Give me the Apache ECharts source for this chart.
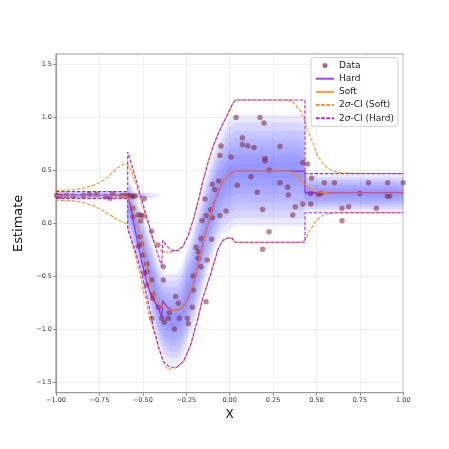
<!DOCTYPE html>
<html>
<head>
<meta charset="utf-8">
<style>
  html, body { margin: 0; padding: 0; background: #fff; }
  #chart { width: 449px; height: 449px; }
</style>
<script src="https://cdn.jsdelivr.net/npm/echarts@6/dist/echarts.min.js"></script>
</head>
<body>
<div id="chart"></div>
<script>
// observations
const dataX = [-0.997, -0.975, -0.94, -0.90, -0.843, -0.808, -0.766, -0.712, -0.689, -0.674, -0.62, -0.595,
  -0.574, -0.558, -0.545, -0.492, -0.558, -0.526, -0.511, -0.497, -0.555, -0.512, -0.449,
  -0.516, -0.507, -0.526, -0.413, -0.499, -0.478, -0.49, -0.476, -0.382, -0.382, -0.449, -0.478, -0.443, -0.443,
  -0.41, -0.449, -0.391, -0.353, -0.376, -0.347, -0.319, -0.311, -0.296, -0.29, -0.244, -0.238, -0.215, -0.209,
  -0.209, -0.136, -0.165, -0.181, -0.129, -0.181, -0.194, -0.165, -0.103,
  -0.159, -0.136, -0.1, -0.056, -0.021, -0.109, -0.142, -0.086, -0.1, -0.063, -0.056, -0.05, 0.008, 0.037, 0.175,
  0.198, 0.073, 0.073, 0.104, 0.14, 0.29, 0.204, 0.204, 0.227, 0.123, 0.044, 0.29, 0.334, 0.159, 0.338, 0.19,
  0.227, 0.19,
  0.421, 0.449, 0.472, 0.545, 0.603, 0.799, 0.910, 1.0, 0.467, 0.511, 0.526, 0.749, 0.908, 0.922, 0.421, 0.467,
  0.378, 0.363, 0.647, 0.685, 0.845, 0.647];
const dataY = [0.262, 0.258, 0.262, 0.255, 0.264, 0.276, 0.276, 0.251, 0.236, 0.283, 0.262, 0.265,
  0.262, 0.251, 0.258, 0.232, 0.142, 0.078, 0.078, 0.069, 0.063, 0.022, -0.075,
  -0.126, -0.195, -0.217, -0.205, -0.299, -0.385, -0.472, -0.456, -0.409, -0.535, -0.535, -0.582, -0.667, -0.708,
  -0.792, -0.896, -0.896, -0.896, -0.934, -0.843, -0.997, -0.692, -0.755, -0.896, -0.896, -0.947, -0.792, -0.629,
  -0.497, -0.74, -0.409, -0.33, -0.346, -0.268, -0.226, -0.142, -0.151,
  0.028, 0.075, 0.053, 0.075, 0.116, 0.128, 0.23, 0.32, 0.37, 0.40, 0.64, 0.73, 0.628, 1.0, 1.0,
  0.949, 0.808, 0.745, 0.732, 0.717, 0.729, 0.613, 0.591, 0.503, 0.44, 0.361, 0.383, 0.34, 0.295, 0.267, 0.132,
  -0.079, -0.245,
  0.575, 0.56, 0.425, 0.383, 0.383, 0.383, 0.383, 0.383, 0.283, 0.274, 0.283, 0.283, 0.258, 0.258, 0.182, 0.182,
  0.157, 0.078, 0.142, 0.157, 0.142, 0.025];

// hard estimate and its band
const hardX = [-1.0, -0.587, -0.575, -0.555, -0.53, -0.505, -0.48, -0.455, -0.43, -0.41, -0.391, -0.386, -0.36,
  -0.334, -0.315, -0.276, -0.238, -0.2, -0.18, -0.16, -0.14, -0.123, -0.094, -0.065, -0.037, -0.008, 0.021, 0.035,
  0.434, 0.434, 1.0];
const hardY = [0.265, 0.265, 0.20, 0.02, -0.18, -0.37, -0.54, -0.67, -0.745, -0.80, -0.89, -0.73, -0.79,
  -0.818, -0.825, -0.80, -0.708, -0.53, -0.38, -0.24, -0.10, 0.0, 0.173, 0.298, 0.399, 0.456, 0.487, 0.493,
  0.493, 0.289, 0.289];
const hardHiX = [-1.0, -0.587, -0.587, -0.56, -0.53, -0.50, -0.47, -0.44, -0.41, -0.391, -0.385, -0.36, -0.33,
  -0.30, -0.27, -0.24, -0.21, -0.18, -0.15, -0.12, -0.09, -0.06, -0.03, 0.0, 0.02, 0.035, 0.434, 0.434, 1.0];
const hardHi = [0.30, 0.30, 0.675, 0.53, 0.36, 0.19, 0.02, -0.16, -0.31, -0.41, -0.16, -0.22, -0.255,
  -0.26, -0.22, -0.12, 0.03, 0.22, 0.42, 0.60, 0.75, 0.87, 0.97, 1.07, 1.14, 1.165, 1.165, 0.47, 0.47];
const hardLoX = [-1.0, -0.587, -0.587, -0.575, -0.545, -0.507, -0.468, -0.44, -0.41, -0.382, -0.343, -0.305,
  -0.267, -0.228, -0.19, -0.152, -0.113, -0.094, -0.065, -0.037, -0.008, 0.015, 0.031, 0.434, 0.434, 1.0];
const hardLo = [0.236, 0.236, -0.06, -0.11, -0.25, -0.47, -0.755, -0.975, -1.164, -1.306, -1.36, -1.36,
  -1.306, -1.164, -0.943, -0.69, -0.5, -0.39, -0.236, -0.158, -0.136, -0.142, -0.179, -0.179, 0.10, 0.10];

// soft estimate and its band
const softX = [-1.0, -0.70, -0.60, -0.585, -0.568, -0.539, -0.511, -0.487, -0.468, -0.44, -0.40, -0.363, -0.315,
  -0.276, -0.238, -0.2, -0.18, -0.16, -0.14, -0.123, -0.094, -0.065, -0.037, -0.008, 0.021, 0.05, 0.33, 0.36,
  0.386, 0.424, 0.463, 0.5, 0.58, 1.0];
const softY = [0.262, 0.262, 0.258, 0.245, 0.19, 0.031, -0.126, -0.315, -0.504, -0.676, -0.771, -0.812, -0.825,
  -0.80, -0.708, -0.53, -0.38, -0.24, -0.10, 0.0, 0.173, 0.298, 0.399, 0.456, 0.487, 0.493, 0.493, 0.48,
  0.456, 0.38, 0.33, 0.298, 0.285, 0.285];
const softHiX = [-1.0, -0.9, -0.85, -0.8, -0.75, -0.70, -0.673, -0.64, -0.615, -0.595, -0.58, -0.565, -0.545,
  -0.526, -0.50, -0.47, -0.44, -0.41, -0.382, -0.353, -0.32, -0.30, -0.27, -0.24, -0.21, -0.18, -0.15, -0.12,
  -0.09, -0.06, -0.03, 0.0, 0.02, 0.04, 0.328, 0.36, 0.40, 0.424, 0.45, 0.472, 0.51, 0.54, 0.568, 0.60, 0.645,
  0.70, 1.0];
const softHi = [0.31, 0.318, 0.33, 0.35, 0.383, 0.435, 0.487, 0.53, 0.555, 0.565, 0.545, 0.49, 0.40,
  0.30, 0.15, 0.0, -0.158, -0.236, -0.268, -0.272, -0.262, -0.25, -0.22, -0.12, 0.03, 0.22, 0.42, 0.60,
  0.75, 0.87, 0.97, 1.07, 1.14, 1.165, 1.165, 1.15, 1.08, 1.006, 0.88, 0.786, 0.628, 0.56, 0.519, 0.495, 0.477,
  0.472, 0.47];
const softLoX = [-1.0, -0.9, -0.85, -0.8, -0.75, -0.70, -0.65, -0.615, -0.597, -0.585, -0.568, -0.55, -0.52,
  -0.49, -0.46, -0.43, -0.40, -0.38, -0.362, -0.34, -0.31, -0.267, -0.228, -0.19, -0.152, -0.113, -0.094, -0.065,
  -0.037, -0.008, 0.015, 0.031, 0.40, 0.434, 0.463, 0.50, 0.54, 0.58, 0.616, 1.0];
const softLo = [0.22, 0.212, 0.20, 0.175, 0.14, 0.09, 0.04, 0.012, 0.0, -0.04, -0.15, -0.26, -0.46,
  -0.68, -0.88, -1.06, -1.22, -1.31, -1.372, -1.378, -1.365, -1.306, -1.164, -0.943, -0.69, -0.5, -0.39, -0.236,
  -0.158, -0.136, -0.142, -0.179, -0.179, -0.158, -0.063, 0.031, 0.078, 0.095, 0.10, 0.10];

// visible extent of the blue density cloud
const shadeX = [-1.0, -0.588, -0.587, -0.57, -0.55, -0.52, -0.49, -0.46, -0.43, -0.40, -0.37, -0.34, -0.31,
  -0.28, -0.25, -0.22, -0.19, -0.16, -0.13, -0.10, -0.07, -0.04, -0.01, 0.03, 0.43, 0.431, 1.0];
const shadeLo = [0.235, 0.235, -0.05, -0.12, -0.25, -0.42, -0.62, -0.80, -1.0, -1.18, -1.28, -1.32, -1.32,
  -1.27, -1.15, -1.0, -0.85, -0.65, -0.45, -0.3, -0.15, -0.08, -0.05, 0.0, 0.0, 0.12, 0.12];
const shadeHi = [0.295, 0.295, 0.40, 0.38, 0.30, 0.15, 0.0, -0.15, -0.3, -0.45, -0.50, -0.50, -0.50,
  -0.45, -0.30, -0.15, 0.05, 0.25, 0.45, 0.6, 0.75, 0.85, 0.95, 1.0, 1.0, 0.45, 0.45];
const streakX = [-0.587, -0.40];
const streakY = [0.262, 0.262];

const yTicks = [-1.5, -1, -0.5, 0, 0.5, 1, 1.5];

const shadeLayers = [1.05, 0.9, 0.75, 0.6, 0.45, 0.3, 0.15];

const HARD = '#9b1fe0';
const SOFT = '#ff8a14';
const FONT = 'DejaVu Sans';

function pairs(xs, ys) {
  return xs.map((x, i) => [x, ys[i]]);
}
function minus(s) {
  return s.replace('-', '\u2212');
}

function lineSeries(name, xs, ys, color, dashed, smooth) {
  return {
    name: name,
    type: 'line',
    data: pairs(xs, ys),
    symbol: 'none',
    showSymbol: false,
    smooth: smooth ? 0.2 : false,
    smoothMonotone: smooth ? 'x' : undefined,
    lineStyle: {
      color: color,
      width: dashed ? 1.1 : 1.3,
      type: dashed ? [3.6, 1.6] : 'solid',
      opacity: dashed ? 0.95 : 0.85
    },
    itemStyle: { color: color },
    silent: true,
    z: dashed ? 4 : 3
  };
}

const chart = echarts.init(document.getElementById('chart'), null, { renderer: 'canvas' });

chart.setOption({
  animation: false,
  backgroundColor: '#fff',
  textStyle: { fontFamily: FONT },
  grid: {
    left: 56, right: 45.7, top: 54, bottom: 56.3,
    show: true, borderColor: '#9a9a9a', borderWidth: 1.2, backgroundColor: 'transparent'
  },
  legend: {
    orient: 'vertical',
    left: 311,
    top: 57.5,
    padding: [3, 4, 3, 4],
    itemWidth: 18,
    itemHeight: 5,
    itemGap: 3.2,
    backgroundColor: 'rgba(255,255,255,0.85)',
    borderColor: '#d0d0d0',
    borderWidth: 1,
    borderRadius: 3,
    itemStyle: { opacity: 0 },
    data: [
      { name: 'Data', itemStyle: { opacity: 1 } },
      'Hard', 'Soft', '2\u03c3-CI (Soft)', '2\u03c3-CI (Hard)'
    ],
    formatter: function (name) {
      return name.replace('\u03c3', '{i|\u03c3}');
    },
    textStyle: {
      fontFamily: FONT, fontSize: 9, color: '#222', lineHeight: 10,
      rich: { i: { fontFamily: FONT, fontSize: 9, fontStyle: 'italic', color: '#222', lineHeight: 10 } }
    }
  },
  xAxis: {
    type: 'value',
    min: -1,
    max: 1,
    interval: 0.25,
    name: 'X',
    nameLocation: 'middle',
    nameGap: 11,
    nameTextStyle: { fontFamily: FONT, fontSize: 12, color: '#111' },
    axisLine: { show: true, onZero: false, lineStyle: { color: '#9a9a9a', width: 1.2 } },
    axisTick: { show: true, length: 3, lineStyle: { color: '#777', width: 0.8 } },
    axisLabel: {
      fontFamily: FONT, fontSize: 6.5, color: '#333', margin: 4,
      formatter: v => minus(v.toFixed(2))
    },
    splitLine: { show: true, lineStyle: { color: '#ececec', width: 0.8 } }
  },
  yAxis: {
    type: 'value',
    min: -1.6,
    max: 1.6,
    name: 'Estimate',
    nameLocation: 'middle',
    nameGap: 22,
    nameTextStyle: { fontFamily: FONT, fontSize: 13, color: '#111' },
    axisLine: { show: true, onZero: false, lineStyle: { color: '#9a9a9a', width: 1.2 } },
    axisTick: { show: true, length: 3, customValues: yTicks, lineStyle: { color: '#777', width: 0.8 } },
    axisLabel: {
      fontFamily: FONT, fontSize: 6.5, color: '#333', margin: 4, customValues: yTicks,
      formatter: v => minus(v.toFixed(1))
    },
    splitLine: { show: true, lineStyle: { color: '#ececec', width: 0.8 } }
  },
  series: [
    {
      name: 'shade',
      type: 'custom',
      silent: true,
      clip: true,
      z: 1,
      data: shadeLayers.map(() => [0, 0]),
      encode: { x: 0, y: 1 },
      renderItem: function (params, api) {
        const k = shadeLayers[params.dataIndex];
        const top = [];
        const bottom = [];
        for (let i = 0; i < shadeX.length; i++) {
          const mid = (shadeLo[i] + shadeHi[i]) / 2;
          const half = (shadeHi[i] - shadeLo[i]) / 2 * k;
          top.push(api.coord([shadeX[i], mid + half]));
          bottom.unshift(api.coord([shadeX[i], mid - half]));
        }
        return {
          type: 'polygon',
          shape: { points: top.concat(bottom), smooth: 0 },
          style: {
            fill: 'rgba(92,92,255,0.1)',
            shadowBlur: 12,
            shadowColor: 'rgba(92,92,255,0.24)'
          }
        };
      }
    },
    {
      name: 'streak',
      type: 'line',
      data: pairs(streakX, streakY),
      symbol: 'none',
      silent: true,
      z: 1,
      lineStyle: {
        width: 5,
        shadowBlur: 4,
        shadowColor: 'rgba(92,92,255,0.3)',
        color: {
          type: 'linear', x: 0, y: 0, x2: 1, y2: 0,
          colorStops: [
            { offset: 0, color: 'rgba(92,92,255,0.45)' },
            { offset: 1, color: 'rgba(92,92,255,0)' }
          ]
        }
      }
    },
    {
      name: 'Data',
      type: 'scatter',
      data: pairs(dataX, dataY),
      symbol: 'circle',
      symbolSize: 5.5,
      itemStyle: { color: 'rgba(125,30,50,0.66)' },
      silent: true,
      z: 2
    },
    lineSeries('Hard', hardX, hardY, HARD, false, false),
    lineSeries('Soft', softX, softY, SOFT, false, true),
    lineSeries('2\u03c3-CI (Soft)', softHiX, softHi, SOFT, true, true),
    lineSeries('2\u03c3-CI (Soft)', softLoX, softLo, SOFT, true, true),
    lineSeries('2\u03c3-CI (Hard)', hardHiX, hardHi, HARD, true, false),
    lineSeries('2\u03c3-CI (Hard)', hardLoX, hardLo, HARD, true, false)
  ]
});
</script>
</body>
</html>
